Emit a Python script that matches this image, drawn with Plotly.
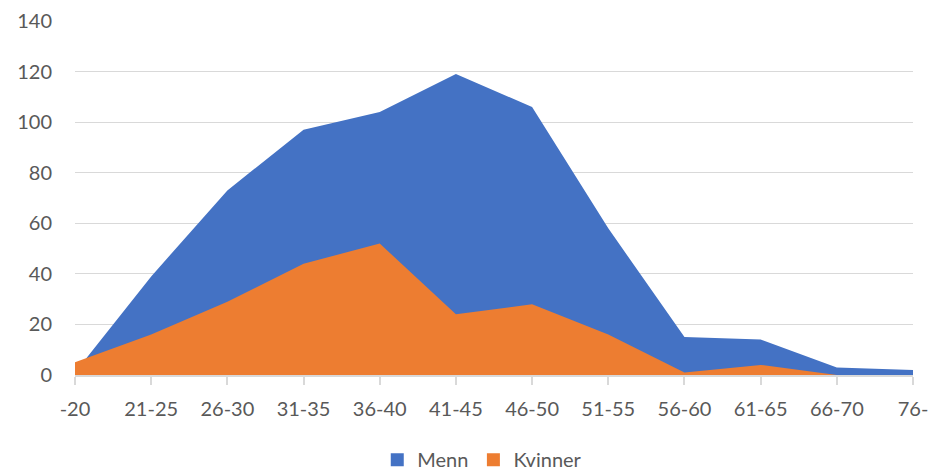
import plotly.graph_objects as go

categories = ["-20", "21-25", "26-30", "31-35", "36-40", "41-45", "46-50",
              "51-55", "56-60", "61-65", "66-70", "76-"]
menn = [1, 39, 73, 97, 104, 119, 106, 58, 15, 14, 3, 2]
kvinner = [5, 16, 29, 44, 52, 24, 28, 16, 1, 4, 0, 0]

blue = "#4472C4"
orange = "#ED7D31"

fig = go.Figure()
fig.add_trace(go.Scatter(x=categories, y=menn, name="Menn", mode="lines",
                         fill="tozeroy", line=dict(width=0, color=blue),
                         fillcolor=blue, showlegend=False, hoverinfo="skip"))
fig.add_trace(go.Scatter(x=categories, y=kvinner, name="Kvinner", mode="lines",
                         fill="tozeroy", line=dict(width=0, color=orange),
                         fillcolor=orange, showlegend=False, hoverinfo="skip"))
# legend entries as squares
fig.add_trace(go.Scatter(x=[None], y=[None], name="Menn", mode="markers",
                         marker=dict(symbol="square", size=13, color=blue)))
fig.add_trace(go.Scatter(x=[None], y=[None], name="Kvinner", mode="markers",
                         marker=dict(symbol="square", size=13, color=orange)))

font_color = "#595959"
fig.update_layout(
    width=931, height=470,
    margin=dict(l=75, r=18, t=21, b=95),
    paper_bgcolor="white", plot_bgcolor="white",
    font=dict(family="Lato, Open Sans, sans-serif", size=20, color=font_color),
    showlegend=True,
    hovermode=False,
    legend=dict(orientation="h", xref="container", yref="container",
                x=0.518, xanchor="center", y=0.022, yanchor="middle",
                font=dict(size=20, color=font_color), itemwidth=30,
                tracegroupgap=0),
    xaxis=dict(type="category", range=[0, 11], showgrid=False, automargin=False,
               showline=True, linecolor="#d9d9d9", linewidth=1.5,
               ticks="outside", ticklen=8, tickcolor="#d9d9d9", tickwidth=1.5,
               ticklabelstandoff=7, zeroline=False),
    yaxis=dict(range=[0, 140], dtick=20, showgrid=True, gridcolor="#d9d9d9",
               gridwidth=1.3, zeroline=False, showline=False, automargin=False,
               ticks="", ticklabelstandoff=22),
)
fig.write_html("out.html", config={"displayModeBar": False},
               post_script="document.body.style.margin='0';document.body.style.overflow='hidden';")
